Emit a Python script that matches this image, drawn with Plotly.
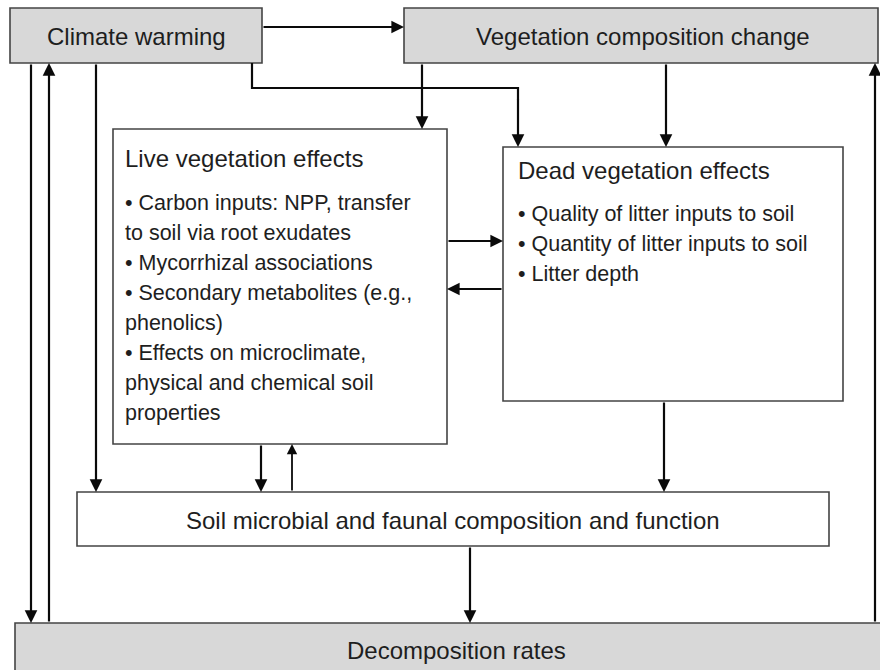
import plotly.graph_objects as go

# ---- text content ----
top_labels = ["Climate warming", "Vegetation composition change"]
live_title = "Live vegetation effects"
live_items = [
    "\u2022 Carbon inputs: NPP, transfer",
    "to soil via root exudates",
    "\u2022 Mycorrhizal associations",
    "\u2022 Secondary metabolites (e.g.,",
    "phenolics)",
    "\u2022 Effects on microclimate,",
    "physical and chemical soil",
    "properties",
]
dead_title = "Dead vegetation effects"
dead_items = [
    "\u2022 Quality of litter inputs to soil",
    "\u2022 Quantity of litter inputs to soil",
    "\u2022 Litter depth",
]
soil_label = "Soil microbial and faunal composition and function"
decomp_label = "Decomposition rates"

# ---- layout geometry (pixels of the page, y downwards) ----
W, H = 880, 670
FONT = "Liberation Sans, Arial, Helvetica, sans-serif"
GREY = "#d8d8d8"
EDGE = "#444444"
INK = "#0a0a0a"
TXT = "#1e1e1e"

boxes = {
    "climate": dict(x0=10, x1=262, y0=8, y1=63, fill=GREY),
    "veg": dict(x0=404, x1=878, y0=8, y1=63, fill=GREY),
    "live": dict(x0=113, x1=447, y0=129, y1=444, fill="white"),
    "dead": dict(x0=503, x1=843, y0=147, y1=401, fill="white"),
    "soil": dict(x0=77, x1=829, y0=492, y1=546, fill="white"),
    "decomp": dict(x0=15, x1=900, y0=623, y1=720, fill=GREY),
}

fig = go.Figure()
fig.add_trace(go.Scatter(x=[0, W], y=[0, H], mode="markers",
                         marker=dict(opacity=0), hoverinfo="skip", showlegend=False))

shapes = []
for b in boxes.values():
    shapes.append(dict(type="rect", xref="x", yref="y", x0=b["x0"], x1=b["x1"],
                       y0=b["y0"], y1=b["y1"], fillcolor=b["fill"],
                       line=dict(color=EDGE, width=1.6), layer="below"))

# polyline segment (climate -> dead elbow) without head
shapes.append(dict(type="path", xref="x", yref="y",
                   path="M252,63 L252,88 L518,88 L518,100",
                   line=dict(color=INK, width=2.2)))

annotations = []

def arrow(x0, y0, x1, y1, w=2.2):
    annotations.append(dict(x=x1, y=y1, ax=x0, ay=y0, xref="x", yref="y",
                            axref="x", ayref="y", text="", showarrow=True,
                            arrowhead=2, arrowsize=1.15, arrowwidth=w,
                            arrowcolor=INK, standoff=0, startstandoff=0))

arrow(262, 27, 404, 27)        # climate -> veg
arrow(31, 63, 31, 623)         # climate -> decomposition
arrow(49, 623, 49, 63)         # decomposition -> climate
arrow(96, 63, 96, 492)         # climate -> soil
arrow(518, 98, 518, 147)       # climate -> dead (elbow end)
arrow(422, 63, 422, 129)       # veg -> live
arrow(666, 63, 666, 147)       # veg -> dead
arrow(875, 623, 875, 63)       # decomposition -> veg
arrow(447, 241, 503, 241)      # live -> dead
arrow(503, 289, 447, 289)      # dead -> live
arrow(261, 444, 261, 492)      # live -> soil
arrow(292, 492, 292, 444, 1.8) # soil -> live
arrow(664, 401, 664, 492)      # dead -> soil
arrow(470, 546, 470, 623)      # soil -> decomposition

def label(x, y, s, size, anchor="center"):
    annotations.append(dict(x=x, y=y, xref="x", yref="y", text=s, showarrow=False,
                            xanchor=anchor, yanchor="middle",
                            font=dict(family=FONT, size=size, color=TXT)))

label(136, 36, top_labels[0], 24)
label(643, 36, top_labels[1], 24)
label(123, 158, live_title, 24, "left")
for i, s in enumerate(live_items):
    label(123, 203 + 30 * i, s, 21.5, "left")
label(516, 170, dead_title, 24, "left")
for i, s in enumerate(dead_items):
    label(516, 214 + 30 * i, s, 21.5, "left")
label(453, 520, soil_label, 24)
label(456, 650, decomp_label, 24)

fig.update_layout(
    width=W, height=H, margin=dict(l=0, r=0, t=0, b=0),
    paper_bgcolor="white", plot_bgcolor="white",
    xaxis=dict(range=[0, W], visible=False, fixedrange=True),
    yaxis=dict(range=[H, 0], visible=False, fixedrange=True),
    shapes=shapes, annotations=annotations, showlegend=False,
)
fig.write_html(
    "out.html",
    config={"displayModeBar": False},
    post_script="document.body.style.margin='0';document.body.style.overflow='hidden';",
)
